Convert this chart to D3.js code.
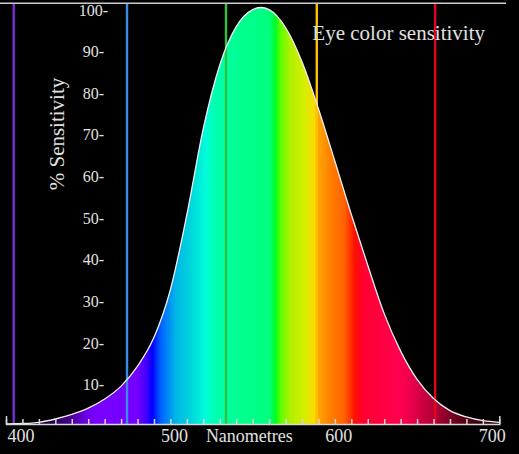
<!DOCTYPE html>
<html>
<head>
<meta charset="utf-8">
<script src="https://cdn.jsdelivr.net/npm/d3@7.9.0/dist/d3.min.js"></script>
<style>
  html, body { margin: 0; padding: 0; background: #000; }
  svg { display: block; }
</style>
</head>
<body>
<svg id="chart" width="519" height="454"></svg>
<script>
// wavelength (nm) and % sensitivity
const wavelengths = [400, 410, 420, 430, 440, 450, 460, 470, 480, 490, 500, 510, 520, 530, 540, 550, 555,
                     560, 570, 580, 590, 600, 610, 620, 630, 640, 650, 660, 670, 680, 690, 700];
const sensitivity = [0.04, 0.12, 0.4, 1.2, 2.3, 3.8, 6.0, 9.1, 13.9, 20.8, 32.3, 50.3, 71.0, 86.2, 95.4, 99.5, 100,
                     99.5, 95.2, 87.0, 75.7, 63.1, 50.3, 38.1, 26.5, 17.5, 10.7, 6.1, 3.2, 1.7, 0.8, 0.4];

// spectrum colours under the curve
const spectrumNm = [400, 427, 439, 448, 454, 480, 486, 489, 494, 503, 512, 522, 527, 542, 560, 564, 567,
                    573, 582, 588, 589.5, 597, 606, 612, 617, 628, 640, 649, 664, 676, 686, 700];
const spectrumColors = ["#100020", "#200040", "#4a0090", "#6a00e0", "#7800ff", "#7400ff", "#3a00ff", "#0000ff",
                        "#0060ff", "#00b4e8", "#00d4dc", "#00ffd8", "#00ffb0", "#00ff90", "#00ff80", "#00ff20",
                        "#60ff00", "#b0f000", "#d8ee00", "#ffd800", "#ffa800", "#ff8000", "#ff6000", "#ff1000",
                        "#ff0030", "#ff0040", "#ff0050", "#e00048", "#a00030", "#600018", "#400010", "#300010"];

// coloured reference lines
const markerNm = [404.7, 473.6, 533.8, 589, 661];
const markerColors = ["#7a2ad8", "#3a8ae8", "#30c040", "#ffc000", "#e8001c"];

const xTickLabels = [400, 500, 600, 700];
const yTickLabels = [10, 20, 30, 40, 50, 60, 70, 80, 90, 100];

const svg = d3.select("#chart");
const W = 519, H = 454;
const font = "'Liberation Serif', 'DejaVu Serif', serif";
const textColor = "#e0e0e0";

svg.append("rect").attr("width", W).attr("height", H).attr("fill", "#000");

const x = d3.scaleLinear().domain([400, 700]).range([6, 499.3]);
const y = d3.scaleLinear().domain([0, 100]).range([424, 7.5]);

const data = wavelengths.map((nm, i) => ({ nm: nm, v: sensitivity[i] }));

// gradient
const grad = svg.append("defs").append("linearGradient")
  .attr("id", "spectrum")
  .attr("gradientUnits", "userSpaceOnUse")
  .attr("x1", x(400)).attr("x2", x(700))
  .attr("y1", 0).attr("y2", 0);

grad.selectAll("stop")
  .data(spectrumNm).enter()
  .append("stop")
  .attr("offset", d => (d - 400) / 300)
  .attr("stop-color", (d, i) => spectrumColors[i]);

// filled area
const area = d3.area()
  .x(d => x(d.nm))
  .y0(y(0))
  .y1(d => y(d.v))
  .curve(d3.curveMonotoneX);

svg.append("path")
  .datum(data)
  .attr("d", area)
  .attr("fill", "url(#spectrum)");

// top frame line
svg.append("line")
  .attr("x1", 0).attr("x2", 506)
  .attr("y1", 3.3).attr("y2", 3.3)
  .attr("stroke", "#cccccc")
  .attr("stroke-width", 1.5);

// vertical coloured lines
svg.selectAll(".marker")
  .data(markerNm).enter()
  .append("line")
  .attr("class", "marker")
  .attr("x1", d => x(d)).attr("x2", d => x(d))
  .attr("y1", 4).attr("y2", y(0))
  .attr("stroke", (d, i) => markerColors[i])
  .attr("stroke-width", 2.4);

// curve outline
const line = d3.line()
  .x(d => x(d.nm))
  .y(d => y(d.v))
  .curve(d3.curveMonotoneX);

svg.append("path")
  .datum(data)
  .attr("d", line)
  .attr("fill", "none")
  .attr("stroke", "#f0f0f0")
  .attr("stroke-width", 1.3);

// x axis ticks
const xTicks = svg.append("g")
  .attr("transform", `translate(0,${y(0)})`)
  .call(d3.axisBottom(x).ticks(30).tickSizeInner(-5).tickSizeOuter(-8).tickFormat(""));

xTicks.selectAll("path, line")
  .attr("stroke", "#d8d8d8")
  .attr("stroke-width", 1.5);

// x axis labels
const xLabels = svg.append("g")
  .attr("transform", `translate(0,${y(0)})`)
  .call(d3.axisBottom(x).tickValues(xTickLabels).tickSize(0).tickPadding(5));

xLabels.select(".domain").remove();
xLabels.selectAll("text")
  .attr("fill", textColor)
  .style("font-family", font)
  .style("font-size", "18px")
  .attr("text-anchor", (d, i) => i === 0 ? "start" : i === xTickLabels.length - 1 ? "end" : "middle")
  .attr("dx", (d, i) => i === 0 ? 1 : i === xTickLabels.length - 1 ? 6 : 3.5);

svg.append("text")
  .attr("x", x(548))
  .attr("y", 441.7)
  .attr("text-anchor", "middle")
  .attr("fill", textColor)
  .style("font-family", font)
  .style("font-size", "18px")
  .text("Nanometres");

// y axis labels
const yAxis = svg.append("g")
  .attr("transform", "translate(93.5,0)")
  .call(d3.axisRight(y).tickValues(yTickLabels).tickSize(0).tickPadding(0).tickFormat(d => d + "-"));

yAxis.select(".domain").remove();
yAxis.selectAll("text")
  .attr("fill", textColor)
  .attr("text-anchor", "middle")
  .attr("dy", "0.47em")
  .style("font-family", font)
  .style("font-size", "16px");

svg.append("text")
  .attr("transform", "translate(63.5,134) rotate(-90)")
  .attr("text-anchor", "middle")
  .attr("fill", textColor)
  .style("font-family", font)
  .style("font-size", "21px")
  .text("% Sensitivity");

svg.append("text")
  .attr("x", 485)
  .attr("y", 40)
  .attr("text-anchor", "end")
  .attr("fill", textColor)
  .style("font-family", font)
  .style("font-size", "21px")
  .text("Eye color sensitivity");
</script>
</body>
</html>
